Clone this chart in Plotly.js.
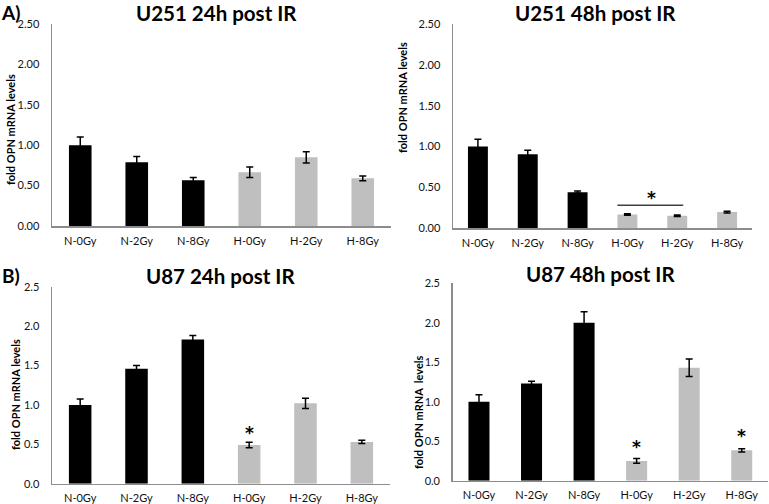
<!DOCTYPE html>
<html>
<head>
<meta charset="utf-8">
<script src="https://cdn.plot.ly/plotly-3.0.1.min.js"></script>
<style>html,body{margin:0;padding:0;background:#fff;}#chart{width:769px;height:504px;}</style>
</head>
<body>
<div id="chart"></div>
<script>
const categories = ['N-0Gy', 'N-2Gy', 'N-8Gy', 'H-0Gy', 'H-2Gy', 'H-8Gy'];
const barColors = ['#000000', '#000000', '#000000', '#bfbfbf', '#bfbfbf', '#bfbfbf'];

const u251_24h = [1.00, 0.79, 0.565, 0.665, 0.85, 0.59];
const u251_24h_err = [0.10, 0.07, 0.035, 0.065, 0.07, 0.03];
const u251_48h = [1.00, 0.905, 0.44, 0.165, 0.15, 0.195];
const u251_48h_err = [0.09, 0.05, 0.015, 0.01, 0.01, 0.01];
const u87_24h = [1.00, 1.46, 1.83, 0.49, 1.02, 0.53];
const u87_24h_err = [0.075, 0.04, 0.05, 0.035, 0.065, 0.02];
const u87_48h = [1.00, 1.23, 2.00, 0.25, 1.43, 0.385];
const u87_48h_err = [0.09, 0.03, 0.14, 0.03, 0.11, 0.02];

const panelTitles = ['U251 24h post IR', 'U251 48h post IR', 'U87 24h post IR', 'U87 48h post IR'];
const yTitles = ['fold OPN mRNA levels', 'fold OPN mRNA levels', 'fold OPN mRNA levels', 'fold OPN mRNA  levels'];
const yTickFormats = ['.2f', '.2f', '.1f', '.1f'];

// significance stars: [panel, category index, y value]
const stars = [[1, 3.48, 0.37], [2, 3, 0.64], [3, 3, 0.43], [3, 5, 0.56]];
// significance bracket line (panel 2): x from, x to, y
const sigLine = {panel: 1, x0: 2.8, x1: 4.12, y: 0.28};

const W = 769, H = 504;
const px = (a, b) => [a / W, b / W];
const py = (top, bottom) => [1 - bottom / H, 1 - top / H];

const panels = [
  {vals: u251_24h, err: u251_24h_err, xd: px(52, 391), yd: py(24, 226), tx: 216, ty: 13, ytx: 10, yty: 130},
  {vals: u251_48h, err: u251_48h_err, xd: px(453, 752), yd: py(24.3, 228), tx: 595, ty: 13, ytx: 403, yty: 98},
  {vals: u87_24h, err: u87_24h_err, xd: px(52, 390), yd: py(286.7, 483.7), tx: 220, ty: 276, ytx: 15, yty: 395},
  {vals: u87_48h, err: u87_48h_err, xd: px(452.7, 768), yd: py(283.3, 480.7), tx: 600, ty: 274, ytx: 418, yty: 412}
];

const FONT = 'Lato, "Open Sans", sans-serif';
const data = [];
const layout = {
  width: W, height: H, autosize: false,
  margin: {l: 0, r: 0, t: 0, b: 0},
  paper_bgcolor: '#ffffff', plot_bgcolor: '#ffffff',
  showlegend: false, bargap: 0.6,
  font: {family: FONT, color: '#222'},
  annotations: [], shapes: []
};

panels.forEach((p, i) => {
  const n = i + 1;
  const xa = 'x' + (n === 1 ? '' : n), ya = 'y' + (n === 1 ? '' : n);
  data.push({
    type: 'bar', x: categories, y: p.vals, xaxis: xa, yaxis: ya,
    marker: {color: barColors},
    error_y: {type: 'data', array: p.err, visible: true, color: '#000', thickness: 1.5, width: 3.5},
    hoverinfo: 'none'
  });
  layout['xaxis' + (n === 1 ? '' : n)] = {
    domain: p.xd, anchor: ya, type: 'category', showgrid: false, zeroline: false,
    showline: true, linecolor: '#8c8c8c', linewidth: 1.5, ticks: '',
    ticklabelstandoff: 4, tickfont: {family: FONT, size: 11, color: '#111'}, fixedrange: true
  };
  layout['yaxis' + (n === 1 ? '' : n)] = {
    domain: p.yd, anchor: xa, range: [0, 2.5], dtick: 0.5, tick0: 0, tickformat: yTickFormats[i],
    showgrid: false, zeroline: false, showline: true, linecolor: '#8c8c8c', linewidth: 1.5,
    ticks: '', ticklabelstandoff: 9, tickfont: {family: FONT, size: 11, color: '#111'}, fixedrange: true
  };
  layout.annotations.push({
    text: '<b>' + panelTitles[i] + '</b>', xref: 'paper', yref: 'paper',
    x: p.tx / W, y: 1 - p.ty / H, xanchor: 'center', yanchor: 'middle', showarrow: false,
    font: {family: FONT, size: 20.5, color: '#000'}, borderpad: 0
  });
  layout.annotations.push({
    text: '<b>' + yTitles[i] + '</b>', xref: 'paper', yref: 'paper', textangle: -90,
    x: p.ytx / W, y: 1 - p.yty / H, xanchor: 'center', yanchor: 'middle', showarrow: false,
    font: {family: FONT, size: 11, color: '#000'}
  });
});

stars.forEach(s => {
  const n = s[0] + 1;
  layout.annotations.push({
    text: '<b>*</b>', xref: 'x' + (n === 1 ? '' : n), yref: 'y' + (n === 1 ? '' : n),
    x: s[1], y: s[2], xanchor: 'center', yanchor: 'middle', showarrow: false,
    font: {family: '"DejaVu Sans", sans-serif', size: 17, color: '#000'}
  });
});
{
  const n = sigLine.panel + 1;
  layout.shapes.push({
    type: 'line', xref: 'x' + n, yref: 'y' + n,
    x0: sigLine.x0, x1: sigLine.x1, y0: sigLine.y, y1: sigLine.y,
    line: {color: '#404040', width: 1.5}
  });
}
layout.annotations.push({text: '<b>A)</b>', xref: 'paper', yref: 'paper', x: 0, y: 1 - 12 / H,
  xanchor: 'left', yanchor: 'middle', showarrow: false, font: {family: FONT, size: 19, color: '#000'}, borderpad: 0});
layout.annotations.push({text: '<b>B)</b>', xref: 'paper', yref: 'paper', x: 0, y: 1 - 275 / H,
  xanchor: 'left', yanchor: 'middle', showarrow: false, font: {family: FONT, size: 19, color: '#000'}});

Plotly.newPlot('chart', data, layout, {displayModeBar: false, staticPlot: true});
</script>
</body>
</html>
